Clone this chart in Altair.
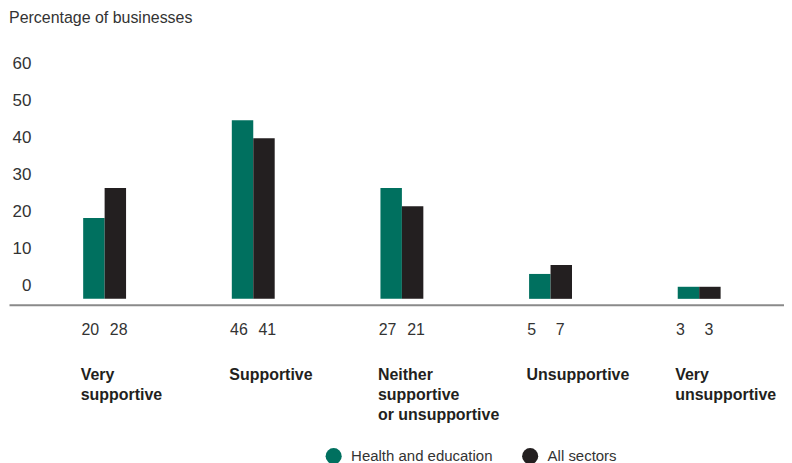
import altair as alt
import pandas as pd

categories = ["Very|supportive", "Supportive", "Neither|supportive|or unsupportive",
              "Unsupportive", "Very|unsupportive"]
series = ["Health and education", "All sectors"]
health_values = [20.8, 45.9, 28.5, 6.4, 3.1]
all_values = [28.5, 41.3, 23.8, 8.7, 3.1]
health_labels = ["20", "46", "27", "5", "3"]
all_labels = ["28", "41", "21", "7", "3"]
y_ticks = [0, 10, 20, 30, 40, 50, 60]
colors = ["#00705F", "#231F20"]

rows = []
for i, c in enumerate(categories):
    rows.append(dict(cat=c, series=series[0], value=health_values[i], label=health_labels[i]))
    rows.append(dict(cat=c, series=series[1], value=all_values[i], label=all_labels[i]))
df = pd.DataFrame(rows)

W, H = 777, 241
FONT = "Liberation Sans, Arial, sans-serif"
TXT = "#333333"

x = alt.X(
    "cat:N", sort=categories,
    scale=alt.Scale(paddingInner=0, paddingOuter=0.107, align=0.67),
    axis=alt.Axis(title=None, orient="bottom", offset=6, domainColor="#8a8a8a",
                  domainWidth=2, ticks=False, grid=False, labelAlign="left",
                  labelBaseline="top", labelOffset=-24, labelPadding=62,
                  labelExpr="split(datum.label, '|')", labelFont=FONT,
                  labelFontWeight="bold", labelFontSize=16, labelColor="#231F20",
                  labelLineHeight=20, labelLimit=0, labelOverlap=False, labelAngle=0),
)
xo = alt.XOffset("series:N", sort=series,
                 scale=alt.Scale(paddingInner=0, paddingOuter=0, range=[53, 96]))

bars = alt.Chart(df).mark_bar().encode(
    x=x, xOffset=xo,
    y=alt.Y("value:Q", scale=alt.Scale(domain=[0, 61.8], nice=False, zero=True), axis=None),
    color=alt.Color("series:N", sort=series,
                    scale=alt.Scale(domain=series, range=colors),
                    legend=alt.Legend(title=None, orient="none", legendX=317, legendY=390,
                                      direction="horizontal", symbolType="circle",
                                      symbolSize=260, symbolStrokeWidth=0,
                                      labelFont=FONT, labelFontSize=15, labelColor=TXT,
                                      labelOffset=9, columnPadding=29, labelLimit=0)),
)

axis_df = pd.DataFrame({"tick": y_ticks})
yaxis = alt.Chart(axis_df).mark_point(opacity=0).encode(
    y=alt.Y("tick:Q", scale=alt.Scale(domain=[-3.49, 61.29], nice=False, zero=False),
            axis=alt.Axis(values=y_ticks, title=None, orient="left", offset=-22,
                          domain=False, ticks=False, grid=False, labelPadding=0,
                          labelAlign="right", labelBaseline="middle", labelFont=FONT,
                          labelFontSize=17, labelColor=TXT)),
)

txt_h = alt.Chart(df[df.series == series[0]]).mark_text(
    align="left", baseline="middle", dx=-12.5, font=FONT, fontSize=16, color=TXT
).encode(x=x, xOffset=xo, y=alt.value(H + 31), text="label:N")

txt_a = alt.Chart(df[df.series == series[1]]).mark_text(
    align="left", baseline="middle", dx=-5.5, font=FONT, fontSize=16, color=TXT
).encode(x=x, xOffset=xo, y=alt.value(H + 31), text="label:N")

chart = alt.layer(bars, yaxis, txt_h, txt_a).resolve_scale(y="independent").properties(
    width=W, height=H,
    autosize=alt.AutoSizeParams(type="none"),
    padding={"left": 1, "top": 50, "right": 0, "bottom": 164},
    title=alt.TitleParams("Percentage of businesses", anchor="start", frame="group",
                          font=FONT, fontSize=16, fontWeight="normal", color=TXT,
                          offset=28),
).configure_view(stroke=None)

chart.save("out.html", embed_options={"renderer": "svg", "actions": False})
